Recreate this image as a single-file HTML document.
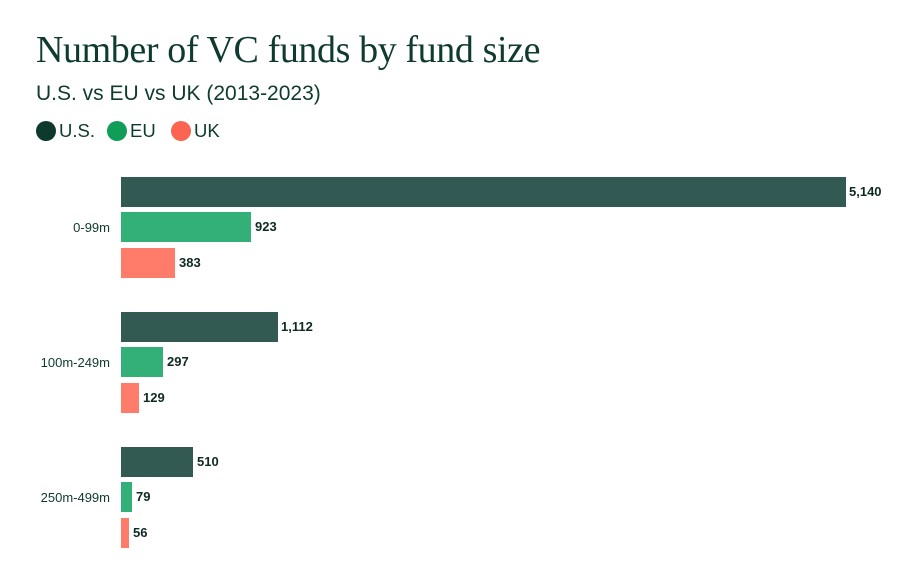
<!DOCTYPE html>
<html><head><style>
body{margin:0;background:#fff;width:898px;height:562px;overflow:hidden;position:relative;font-family:"Liberation Sans",sans-serif;color:#0e3a2f}
.a{position:absolute}
.t{left:36px;top:28px;font-family:"Liberation Serif",serif;font-size:38px;color:#0e3a2f;letter-spacing:-0.4px;white-space:nowrap}
.s{left:36px;top:82px;font-size:21px;color:#0e3a2f;letter-spacing:0px;white-space:nowrap}
.lg{top:120px;font-size:18.5px;display:flex;align-items:center}
.dot{width:20px;height:20px;border-radius:50%;margin-right:3px}
.b{position:absolute;left:121px;height:30px}
.v{position:absolute;font-size:13px;font-weight:bold;color:#0e2a22;line-height:30px}
.c{position:absolute;font-size:13px;color:#0e3a2f;right:788px;line-height:16px}
.u{background:#325a52}.e{background:#33b077}.k{background:#fe7c69}
</style></head><body>
<div class="a t">Number of VC funds by fund size</div>
<div class="a s">U.S. vs EU vs UK (2013-2023)</div>
<div class="a lg" style="left:36px"><div class="dot" style="background:#0d3a2d"></div>U.S.</div>
<div class="a lg" style="left:107px"><div class="dot" style="background:#0f9d58"></div>EU</div>
<div class="a lg" style="left:171px"><div class="dot" style="background:#fa6450"></div>UK</div>

<div class="c" style="top:220px">0-99m</div>
<div class="b u" style="top:177px;width:725px"></div><div class="v" style="top:177px;left:849px">5,140</div>
<div class="b e" style="top:212px;width:130px"></div><div class="v" style="top:212px;left:255px">923</div>
<div class="b k" style="top:248px;width:54px"></div><div class="v" style="top:248px;left:179px">383</div>

<div class="c" style="top:355px">100m-249m</div>
<div class="b u" style="top:312px;width:157px"></div><div class="v" style="top:312px;left:281px">1,112</div>
<div class="b e" style="top:347px;width:42px"></div><div class="v" style="top:347px;left:167px">297</div>
<div class="b k" style="top:383px;width:18px"></div><div class="v" style="top:383px;left:143px">129</div>

<div class="c" style="top:490px">250m-499m</div>
<div class="b u" style="top:447px;width:72px"></div><div class="v" style="top:447px;left:197px">510</div>
<div class="b e" style="top:482px;width:11px"></div><div class="v" style="top:482px;left:136px">79</div>
<div class="b k" style="top:518px;width:8px"></div><div class="v" style="top:518px;left:133px">56</div>
</body></html>
